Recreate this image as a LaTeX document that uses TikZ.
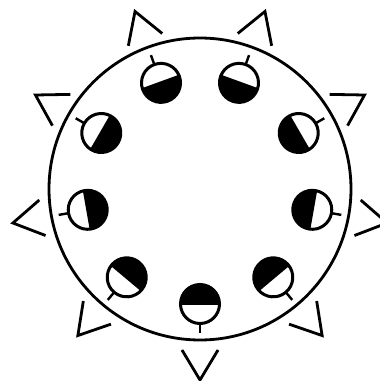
\documentclass[tikz,border=0pt]{standalone}
\begin{document}
\begin{tikzpicture}[x=1pt,y=1pt,line width=2.8pt,
  halfdisc/.style={line width=3pt},
  stem/.style={line width=2.4pt},
  chevron/.style={line width=2.8pt}]
\useasboundingbox (0,0) rectangle (380,381);
\fill[white] (0,0) rectangle (380,381);
\coordinate (O) at (200,191);
\draw (200,192) circle (151);
\begin{scope}[shift={(200,191)}]
\foreach \a in {-90,-50,...,230} {
  \begin{scope}[shift={(\a:114)}, rotate=\a]
    \fill (0,0) -- (90:19.5) arc (90:270:19.5) -- cycle;
    \draw[halfdisc] (0,0) circle (19.5);
    \draw[halfdisc] (90:19.5) -- (270:19.5);
    \draw[stem] (19.5,0) -- (29.5,0);
  \end{scope}
  \begin{scope}[shift={(\a:190)}, rotate=\a]
    \draw[chevron] (180-31:35) -- (0,0) -- (180+31:35);
  \end{scope}
}
\end{scope}
\end{tikzpicture}
\end{document}
